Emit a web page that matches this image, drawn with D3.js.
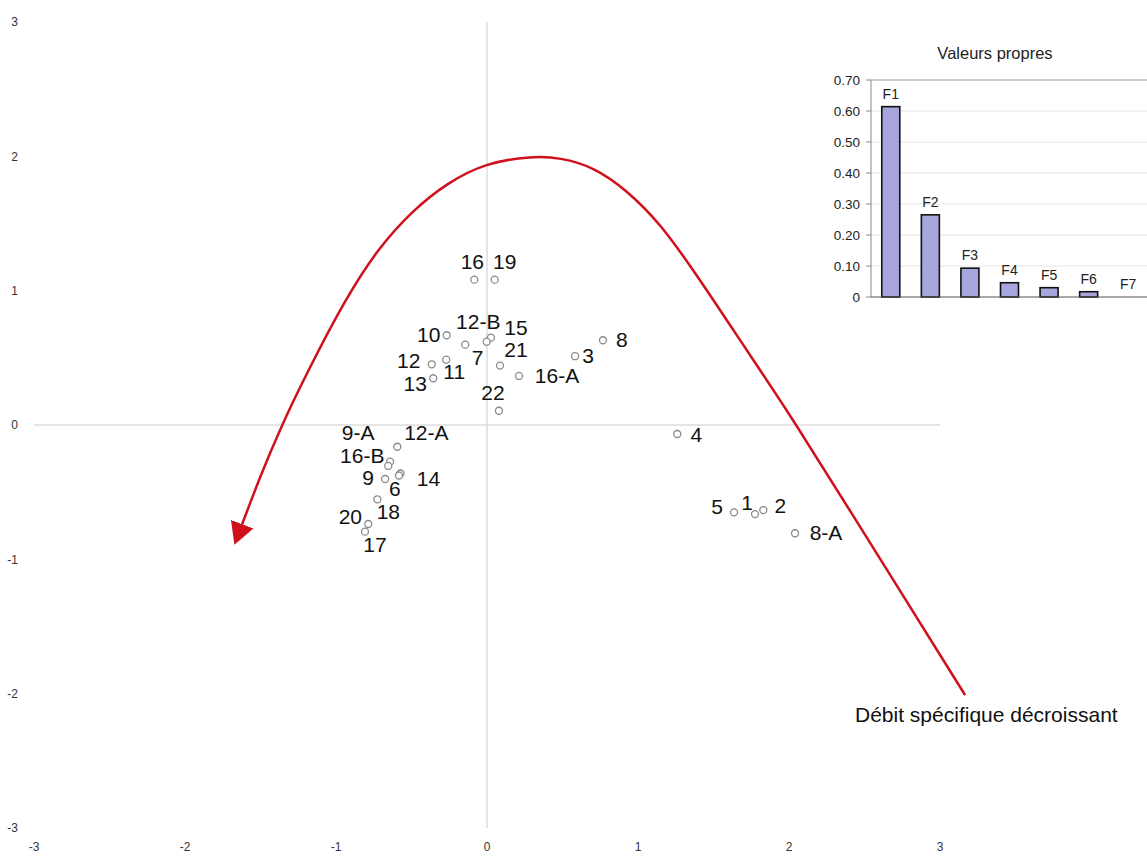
<!DOCTYPE html>
<html>
<head>
<meta charset="utf-8">
<script src="https://cdn.jsdelivr.net/npm/d3@7"></script>
<style>
  html, body { margin: 0; padding: 0; background: #fff; }
  svg { display: block; }
</style>
</head>
<body>
<svg id="chart" width="1147" height="858"></svg>
<script>
// ---- Data ----
const pointNames = ["16","19","10","12-B","15","7","21","12","11","13","16-A","3","8","22",
                    "12-A","9-A","16-B","14","6","9","18","20","17","4","5","1","2","8-A"];
const pointX = [-0.084,0.051,-0.267,-0.144,0.026,-0.002,0.086,-0.366,-0.270,-0.356,0.212,0.583,0.768,0.079,
                -0.594,-0.642,-0.654,-0.573,-0.583,-0.675,-0.726,-0.786,-0.808,1.260,1.636,1.775,1.830,2.040];
const pointY = [1.082,1.082,0.668,0.598,0.650,0.620,0.442,0.452,0.486,0.348,0.365,0.512,0.631,0.106,
                -0.162,-0.273,-0.305,-0.361,-0.376,-0.402,-0.553,-0.737,-0.794,-0.067,-0.650,-0.663,-0.633,-0.806];
const xTicks = [-3,-2,-1,0,1,2,3];
const yTicks = [-3,-2,-1,0,1,2,3];

// trend arrow (data coordinates)
const curveX = [3.166,2.360,2.028,1.808,1.587,1.366,1.146,0.925,0.704,0.483,0.305,-0.013,-0.267,-0.490,-0.730,-0.940,-1.172,-1.360,-1.503,-1.626];
const curveY = [-2.010,-0.558,0.037,0.409,0.782,1.154,1.502,1.749,1.923,1.990,2.003,1.951,1.799,1.601,1.303,0.931,0.434,0.000,-0.385,-0.752];
const annotationText = "Débit spécifique décroissant";

// inset: eigenvalues
const factorNames = ["F1","F2","F3","F4","F5","F6","F7"];
const eigenValues = [0.614,0.265,0.093,0.046,0.030,0.017,0.0];
const eigenTicks = [0,0.1,0.2,0.3,0.4,0.5,0.6,0.7];
const insetTitle = "Valeurs propres";

// ---- Layout (label offsets in px, positions only) ----
const labelDX = [-2,10,-18,13,25,-9,16,-23,8,-18,38,13,19,-6, 29,-32,-26,28,-4,-17,11,-18,10,19,-17,-8,17,31];
const labelDY = [-18,-18,-1,-23,-10,16,-16,-4,12,5,-1,-1,-1,-18, -14,-29,-11,5,13,-2,12,-8,13,0,-6,-12,-5,-1];

const svg = d3.select("#chart");
const FONT = "'Liberation Sans', Arial, sans-serif";

const x = d3.scaleLinear().domain([-3,3]).range([34,940]);
const y = d3.scaleLinear().domain([-3,3]).range([828,22]);

// zero lines
svg.append("line").attr("x1", x(-3)).attr("x2", x(3)).attr("y1", y(0)).attr("y2", y(0))
  .attr("stroke", "#dcdcdc").attr("stroke-width", 1.5);
svg.append("line").attr("x1", x(0)).attr("x2", x(0)).attr("y1", y(3)).attr("y2", y(-3))
  .attr("stroke", "#dcdcdc").attr("stroke-width", 1.5);

// tick labels
svg.append("g").selectAll("text").data(yTicks).join("text")
  .attr("x", 18).attr("y", d => y(d)).attr("dy", "0.35em")
  .attr("text-anchor", "end").attr("font-family", FONT).attr("font-size", 12)
  .attr("fill", "#333").text(d => d);
svg.append("g").selectAll("text").data(xTicks).join("text")
  .attr("x", d => x(d)).attr("y", 847).attr("dy", "0.35em")
  .attr("text-anchor", "middle").attr("font-family", FONT).attr("font-size", 12)
  .attr("fill", "#333").text(d => d);

// red curve with arrow
const defs = svg.append("defs");
defs.append("marker").attr("id", "arrow").attr("markerUnits", "userSpaceOnUse")
  .attr("markerWidth", 26).attr("markerHeight", 26).attr("refX", 2).attr("refY", 12)
  .attr("orient", "auto").attr("viewBox", "0 0 26 24")
  .append("path").attr("d", "M0,0 L22,12 L0,24 Z").attr("fill", "#d0101c");

const curvePts = curveX.map((v, i) => [v, curveY[i]]);
svg.append("path").datum(curvePts)
  .attr("d", d3.line().x(d => x(d[0])).y(d => y(d[1])).curve(d3.curveBasis))
  .attr("fill", "none").attr("stroke", "#d0101c").attr("stroke-width", 2.5)
  .attr("marker-end", "url(#arrow)");

svg.append("text").attr("x", 855).attr("y", 722)
  .attr("font-family", FONT).attr("font-size", 21).attr("fill", "#111").text(annotationText);

// points
const pts = pointNames.map((n, i) => ({n, x: pointX[i], y: pointY[i], dx: labelDX[i], dy: labelDY[i]}));
svg.append("g").selectAll("circle").data(pts).join("circle")
  .attr("cx", d => x(d.x)).attr("cy", d => y(d.y)).attr("r", 3.5)
  .attr("fill", "#fff").attr("stroke", "#8a8a8a").attr("stroke-width", 1.3);
svg.append("g").selectAll("text").data(pts).join("text")
  .attr("x", d => x(d.x) + d.dx).attr("y", d => y(d.y) + d.dy).attr("dy", "0.36em")
  .attr("text-anchor", "middle").attr("font-family", FONT).attr("font-size", 21)
  .attr("fill", "#111").text(d => d.n);

// ---- inset bar chart ----
const ib = svg.append("g");
const xb = d3.scaleBand().domain(factorNames).range([871,1148]).paddingInner(0.545).paddingOuter(0.2725);
const yb = d3.scaleLinear().domain([0,0.7]).range([297,80]);

ib.append("text").attr("x", 995).attr("y", 53).attr("dy", "0.35em").attr("text-anchor", "middle")
  .attr("font-family", FONT).attr("font-size", 16.5).attr("fill", "#222").text(insetTitle);

ib.append("g").selectAll("line").data(eigenTicks.filter(d => d > 0 && d < 0.7)).join("line")
  .attr("x1", 871).attr("x2", 1147).attr("y1", d => yb(d)).attr("y2", d => yb(d))
  .attr("stroke", "#e6e6e6").attr("stroke-width", 1);
ib.append("line").attr("x1", 871).attr("x2", 1147).attr("y1", yb(0.7)).attr("y2", yb(0.7))
  .attr("stroke", "#999").attr("stroke-width", 1);

ib.append("g").selectAll("text").data(eigenTicks).join("text")
  .attr("x", 860).attr("y", d => yb(d)).attr("dy", "0.35em").attr("text-anchor", "end")
  .attr("font-family", FONT).attr("font-size", 13.5).attr("fill", "#222")
  .text(d => d === 0 ? "0" : d.toFixed(2));
ib.append("g").selectAll("line").data(eigenTicks).join("line")
  .attr("x1", 866).attr("x2", 871).attr("y1", d => yb(d)).attr("y2", d => yb(d))
  .attr("stroke", "#888");

const bars = factorNames.map((n, i) => ({n, v: eigenValues[i]}));
ib.append("g").selectAll("rect").data(bars.filter(d => d.v > 0)).join("rect")
  .attr("x", d => xb(d.n)).attr("y", d => yb(d.v)).attr("width", xb.bandwidth())
  .attr("height", d => yb(0) - yb(d.v))
  .attr("fill", "#a6a6dc").attr("stroke", "#111").attr("stroke-width", 1.6);
ib.append("g").selectAll("text").data(bars).join("text")
  .attr("x", d => xb(d.n) + xb.bandwidth()/2).attr("y", d => yb(d.v) - 8)
  .attr("text-anchor", "middle").attr("font-family", FONT).attr("font-size", 14)
  .attr("fill", "#222").text(d => d.n);

ib.append("line").attr("x1", 871).attr("x2", 871).attr("y1", yb(0.7)).attr("y2", yb(0))
  .attr("stroke", "#888").attr("stroke-width", 1);
ib.append("line").attr("x1", 871).attr("x2", 1147).attr("y1", yb(0)).attr("y2", yb(0))
  .attr("stroke", "#555").attr("stroke-width", 1.2);
</script>
</body>
</html>
